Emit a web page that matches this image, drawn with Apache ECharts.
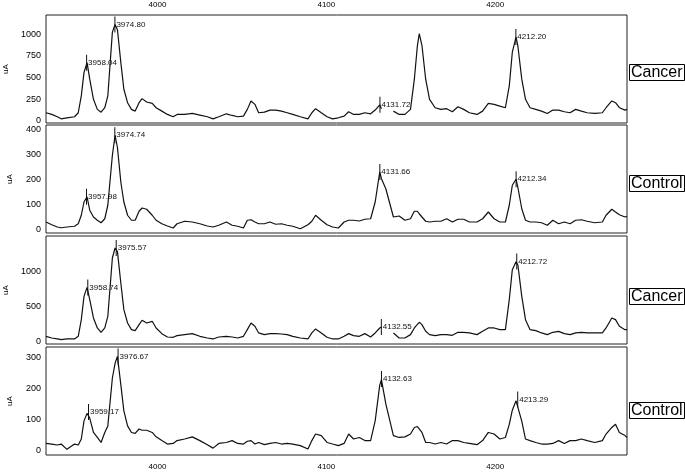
<!DOCTYPE html>
<html>
<head>
<meta charset="utf-8" />
<title>Spectra</title>
<script src="https://cdn.jsdelivr.net/npm/echarts@6/dist/echarts.min.js"></script>
<style>
  html, body { margin: 0; padding: 0; background: #fff; }
  #container { width: 685px; height: 472px; }
</style>
</head>
<body>
<div id="container"></div>
<script type="text/javascript">
// m/z grid shared by the four spectra
var mz = [
  3934, 3937.4, 3940.7, 3943, 3946.4, 3950.9, 3953.1, 3954.9, 3956.5, 3958.3,
  3959.9, 3962.1, 3964.4, 3966.6, 3968.8, 3970.6, 3973.3, 3974.9, 3976.3, 3978.3,
  3980.1, 3982.3, 3984.6, 3986.8, 3989.1, 3990.9, 3993.6, 3996.9, 3999.2, 4002.6,
  4005.9, 4009.3, 4011.6, 4016.1, 4020.6, 4025.1, 4029.5, 4032.9, 4036.3, 4040.8,
  4044.2, 4047.5, 4050.9, 4053.2, 4055.4, 4057.7, 4059.9, 4063.3, 4066.6, 4070,
  4073.4, 4076.8, 4080.1, 4084.6, 4089.1, 4091.4, 4093.6, 4097, 4100.4, 4103.7,
  4107.1, 4110.5, 4113.2, 4116.1, 4119.5, 4122.8, 4126.2, 4128.9, 4131.6, 4132.6,
  4135.2, 4139.7, 4143.1, 4146.5, 4149.8, 4152.1, 4153.9, 4155, 4156.6, 4158.8,
  4161.1, 4164.4, 4167.8, 4171.2, 4174.6, 4177.9, 4181.3, 4184.7, 4189.2, 4192.5,
  4195.9, 4199.3, 4202.7, 4206, 4208.3, 4210.1, 4212.3, 4213.4, 4215.7, 4217.9,
  4220.6, 4224, 4227.4, 4230.8, 4234.1, 4237.5, 4240.9, 4244.3, 4247.6, 4251,
  4254.4, 4258.9, 4263.4, 4265.6, 4269, 4271.2, 4273.5, 4276.8, 4278
];

// intensities (uA); null = gap in trace
var cancer1 = [
  93, 74, 47, 23, 35, 47, 93, 287, 558, 670,
  480, 248, 132, 100, 151, 287, 1023, 1110, 1050, 674,
  364, 209, 132, 112, 209, 256, 217, 201, 151, 112,
  74, 47, 74, 74, 85, 66, 47, 23, 47, 81,
  62, 47, 54, 132, 229, 190, 93, 100, 124, 124,
  112, 93, 74, 47, 23, 93, 140, 93, 47, 23,
  35, 54, 105, 74, 74, 93, 81, 124, 185, 140,
  null, 112, 74, 74, 132, 480, 868, 1004, 868, 480,
  248, 151, 132, 140, 105, 163, 132, 93, 74, 112,
  201, 190, 170, 151, 403, 791, 965, 860, 480, 248,
  151, 132, 112, 85, 124, 124, 105, 93, 132, 112,
  93, 85, 93, 151, 229, 209, 151, 124, 132
];
var control1 = [
  32, 21, 12, 9, 12, 15, 25, 59, 112, 133,
  79, 52, 39, 29, 45, 99, 299, 379, 330, 192,
  112, 59, 39, 39, 75, 88, 83, 59, 39, 25,
  16, 8, 25, 35, 32, 25, 16, 12, 19, 32,
  19, 15, 8, 39, 41, 32, 25, 25, 32, 23,
  25, 19, 15, 5, 21, 35, 59, 39, 21, 12,
  8, 32, 39, 39, 36, 43, 45, 112, 232, 205,
  165, 52, 56, 39, 45, 75, 75, 65, 52, 35,
  32, 35, 35, 45, 32, 43, 43, 32, 32, 45,
  72, 45, 32, 32, 99, 179, 203, 170, 85, 39,
  32, 32, 29, 19, 39, 25, 32, 25, 39, 41,
  35, 29, 32, 59, 83, 72, 61, 52, 55
];
var cancer2 = [
  81, 57, 43, 33, 43, 43, 81, 319, 652, 780,
  605, 343, 200, 138, 200, 367, 1200, 1343, 1290, 843,
  462, 271, 176, 162, 248, 310, 271, 295, 200, 119,
  71, 67, 90, 105, 119, 81, 57, 43, 71, 81,
  71, 57, 81, 176, 271, 224, 129, 105, 119, 119,
  114, 105, 81, 57, 43, 129, 186, 129, 67, 43,
  43, 81, 119, 90, 81, 119, 71, 129, 200, 214,
  null, 129, 57, 57, 105, 200, 250, 281, 248, 152,
  105, 90, 105, 105, 95, 138, 138, 129, 105, 152,
  200, 200, 176, 176, 605, 1033, 1145, 1100, 652, 319,
  176, 162, 129, 105, 138, 152, 119, 105, 129, 138,
  129, 129, 129, 200, 343, 319, 224, 176, 176
];
var control2 = [
  24, 22, 19, 22, 5, 22, 19, 38, 96, 120,
  105, 59, 43, 27, 59, 80, 233, 280, 302, 212,
  128, 80, 59, 56, 70, 66, 66, 59, 45, 33,
  22, 24, 33, 38, 45, 33, 20, 9, 24, 27,
  33, 24, 22, 31, 33, 22, 27, 20, 24, 27,
  22, 24, 22, 17, 6, 33, 54, 49, 27, 22,
  17, 24, 54, 38, 43, 33, 33, 96, 210, 228,
  150, 49, 43, 45, 54, 75, 78, 80, 59, 27,
  27, 22, 27, 22, 33, 33, 27, 24, 20, 33,
  59, 54, 38, 43, 85, 130, 160, 164, 95, 38,
  33, 27, 22, 22, 24, 33, 24, 33, 33, 38,
  33, 27, 33, 54, 75, 85, 59, 49, 43
];

// labelled peaks: m/z and height
var peaks1 = [[3958.04, 670], [3974.80, 1110], [4131.72, 185], [4212.20, 965]];
var peaks2 = [[3957.98, 133], [3974.74, 379], [4131.66, 232], [4212.34, 203]];
var peaks3 = [[3958.74, 780], [3975.57, 1343], [4132.55, 214], [4212.72, 1150]];
var peaks4 = [[3959.17, 124], [3976.67, 302], [4132.63, 230], [4213.29, 164]];

var groupNames = ['Cancer', 'Control', 'Cancer', 'Control'];
var yTicks = [[0, 250, 500, 750, 1000], [0, 100, 200, 300, 400], [0, 500, 1000], [0, 100, 200, 300]];
var xTicks = [4000, 4100, 4200];

var traces = [cancer1, control1, cancer2, control2];
var peaks = [peaks1, peaks2, peaks3, peaks4];
var yRange = [[-25, 1220], [-12, 420], [-29, 1514], [-13, 332]];
var gridTops = [15, 125, 236, 347];
var boxTops = [64, 175, 288, 402];

var font = 'Liberation Sans, Arial, sans-serif';
var plain = function (v) { return String(v); };
var chart = echarts.init(document.getElementById('container'), null, { renderer: 'canvas' });

var grids = [], xAxes = [], yAxes = [], series = [], titles = [];
for (var i = 0; i < 4; i++) {
  grids.push({
    left: 46, right: 58, top: gridTops[i], height: 108,
    containLabel: false, outerBoundsMode: 'none',
    show: true, borderColor: '#222', borderWidth: 1, backgroundColor: 'transparent'
  });
  xAxes.push({
    gridIndex: i, type: 'value', min: 3934, max: 4278,
    position: i === 0 ? 'top' : 'bottom',
    axisLine: { show: false }, axisTick: { show: false }, splitLine: { show: false },
    axisLabel: {
      show: i === 0 || i === 3, customValues: xTicks, formatter: plain,
      fontSize: 8, color: '#000', fontFamily: font, margin: i === 0 ? 6 : 8
    }
  });
  yAxes.push({
    gridIndex: i, type: 'value', min: yRange[i][0], max: yRange[i][1],
    name: 'uA', nameLocation: 'middle', nameGap: 32,
    nameTextStyle: { fontSize: 8, color: '#000', fontFamily: font },
    axisLine: { show: false }, axisTick: { show: false }, splitLine: { show: false },
    axisLabel: {
      customValues: yTicks[i], formatter: plain,
      fontSize: 9, color: '#000', fontFamily: font, margin: 5
    }
  });
  var tr = traces[i];
  series.push({
    type: 'line', xAxisIndex: i, yAxisIndex: i,
    data: mz.map(function (x, k) { return [x, tr[k] === null ? '-' : tr[k]]; }),
    showSymbol: false, symbol: 'none', connectNulls: false,
    lineStyle: { color: '#111', width: 1.2 },
    animation: false,
    markPoint: {
      symbol: 'rect', symbolSize: [1, 16],
      itemStyle: { color: '#111' },
      label: {
        show: true, position: 'right', distance: 1,
        formatter: '{b}', fontSize: 8, color: '#111', fontFamily: font
      },
      data: peaks[i].map(function (p) {
        return { coord: p, name: p[0].toFixed(2) };
      })
    }
  });
  titles.push({
    text: groupNames[i], left: 629, top: boxTops[i],
    borderColor: '#000', borderWidth: 1, padding: [1, 2, 0, 2],
    textStyle: { fontSize: 16, fontWeight: 'normal', color: '#000', fontFamily: font }
  });
}

var option = {
  backgroundColor: '#fff',
  animation: false,
  title: titles,
  grid: grids,
  xAxis: xAxes,
  yAxis: yAxes,
  series: series
};
chart.setOption(option);
window.addEventListener('resize', chart.resize);
</script>
</body>
</html>
